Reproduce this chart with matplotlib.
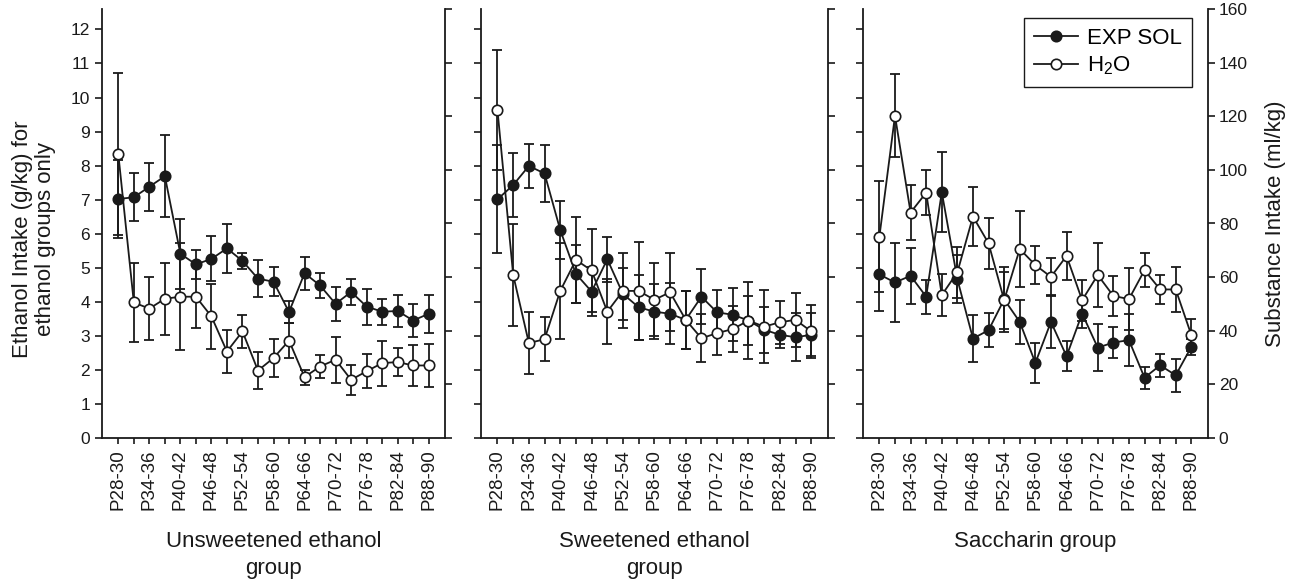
import matplotlib
matplotlib.use("Agg")
import matplotlib.pyplot as plt

plt.rcParams['font.family'] = ['Liberation Sans', 'DejaVu Sans']
plt.rcParams['mathtext.default'] = 'regular'

# period labels one per 3 day bin
periods = ["P28-30", "P31-33", "P34-36", "P37-39", "P40-42", "P43-45", "P46-48",
           "P49-51", "P52-54", "P55-57", "P58-60", "P61-63", "P64-66", "P67-69",
           "P70-72", "P73-75", "P76-78", "P79-81", "P82-84", "P85-87", "P88-90"]

# unsweetened ethanol group g/kg
sol1 = [7.02, 7.07, 7.38, 7.69, 5.41, 5.10, 5.26, 5.57, 5.20, 4.68, 4.59,
        3.70, 4.84, 4.48, 3.94, 4.29, 3.86, 3.71, 3.73, 3.45, 3.65]
sol1_err = [1.15, 0.70, 0.71, 1.21, 1.03, 0.43, 0.66, 0.72, 0.24, 0.55, 0.42,
            0.33, 0.49, 0.36, 0.50, 0.39, 0.53, 0.38, 0.46, 0.48, 0.56]
h2o1 = [8.34, 3.98, 3.80, 4.09, 4.15, 4.15, 3.57, 2.54, 3.13, 1.98, 2.35,
        2.86, 1.79, 2.10, 2.30, 1.71, 1.96, 2.20, 2.23, 2.13, 2.13]
h2o1_err = [2.37, 1.16, 0.92, 1.06, 1.58, 0.91, 0.95, 0.62, 0.48, 0.55, 0.55,
            0.52, 0.22, 0.35, 0.67, 0.44, 0.50, 0.66, 0.42, 0.61, 0.63]

# sweetened ethanol group g/kg
sol2 = [7.01, 7.43, 7.99, 7.77, 6.11, 4.82, 4.30, 5.25, 4.23, 3.84, 3.71,
        3.65, 3.47, 4.15, 3.69, 3.62, 3.45, 3.18, 3.03, 2.96, 3.03]
sol2_err = [1.59, 0.94, 0.65, 0.85, 0.85, 0.85, 0.73, 0.66, 0.76, 0.96, 0.80,
            0.89, 0.85, 0.80, 0.65, 0.78, 0.72, 0.68, 0.40, 0.70, 0.63]
h2o2 = [9.63, 4.79, 2.79, 2.90, 4.32, 5.23, 4.92, 3.71, 4.32, 4.32, 4.06,
        4.28, 3.47, 2.93, 3.08, 3.20, 3.45, 3.27, 3.40, 3.47, 3.13]
h2o2_err = [1.76, 1.50, 0.92, 0.64, 1.40, 1.27, 1.22, 0.96, 1.10, 1.43, 1.07,
            1.14, 0.85, 0.70, 0.64, 0.68, 1.13, 1.08, 0.63, 0.80, 0.78]

# saccharin group ml/kg
sol3 = [61.0, 58.0, 60.5, 52.7, 91.7, 59.2, 37.1, 40.2, 51.7, 43.3, 28.0,
        43.3, 30.5, 46.4, 33.7, 35.6, 36.5, 22.5, 27.1, 23.4, 34.0]
sol3_err = [13.6, 14.6, 10.5, 6.4, 14.8, 9.0, 8.6, 6.4, 12.0, 8.2, 7.6,
            9.9, 5.6, 5.5, 8.7, 5.9, 9.7, 4.1, 4.4, 6.2, 3.0]
h2o3 = [75.1, 120.2, 84.1, 91.5, 53.3, 61.8, 82.6, 72.6, 51.4, 70.5, 64.5,
        60.1, 67.9, 51.4, 60.8, 53.0, 51.8, 62.6, 55.4, 55.4, 38.4]
h2o3_err = [20.6, 15.5, 10.3, 8.3, 7.7, 9.5, 10.9, 9.5, 10.6, 14.2, 7.2,
            7.0, 8.8, 7.6, 11.8, 7.4, 11.7, 6.3, 5.3, 8.4, 6.0]

group_titles = ["Unsweetened ethanol\ngroup", "Sweetened ethanol\ngroup", "Saccharin group"]
left_ticks = list(range(0, 13))
right_ticks = list(range(0, 161, 20))

INK = "#1a1a1a"
W, H = 1303, 586
fig = plt.figure(figsize=(W / 100, H / 100), dpi=100)

# panel rects in pixels left, width
rects = [(101.7, 343.3), (480.7, 347.0), (862.7, 345.0)]
bottom_px, top_px = 438.0, 9.0

panels = [(sol1, sol1_err, h2o1, h2o1_err, False),
          (sol2, sol2_err, h2o2, h2o2_err, False),
          (sol3, sol3_err, h2o3, h2o3_err, True)]

x = list(range(len(periods)))
for i, ((l, w), (s, se, h, he, on_right)) in enumerate(zip(rects, panels)):
    ax = fig.add_axes([l / W, (H - bottom_px) / H, w / W, (bottom_px - top_px) / H])
    ax2 = ax.twinx()
    ax.set_ylim(0, 12.6)
    ax2.set_ylim(0, 160)
    ax.set_xlim(-1.07, 21.05)

    # saccharin values are ml/kg so they go on the right scale
    tgt = ax2 if on_right else ax
    tgt.errorbar(x, s, yerr=se, fmt="none", ecolor=INK, elinewidth=1.3,
                 capsize=3.5, capthick=1.3, zorder=2)
    tgt.errorbar(x, h, yerr=he, fmt="none", ecolor=INK, elinewidth=1.3,
                 capsize=3.5, capthick=1.3, zorder=2)
    l1, = tgt.plot(x, s, "-o", color=INK, mfc=INK, mec=INK, ms=7.5, lw=1.3,
                   mew=1.2, zorder=3, label="EXP SOL")
    l2, = tgt.plot(x, h, "-o", color=INK, mfc="white", mec=INK, ms=7.5, lw=1.3,
                   mew=1.2, zorder=4, label="H$_2$O")

    for sp in ["top", "right"]:
        ax.spines[sp].set_visible(False)
    for sp in ["top", "left", "bottom"]:
        ax2.spines[sp].set_visible(False)
    ax.spines["left"].set_linewidth(1.3)
    ax.spines["bottom"].set_linewidth(1.3)
    ax2.spines["right"].set_linewidth(1.3)
    for sp in ax.spines.values():
        sp.set_color(INK)
    for sp in ax2.spines.values():
        sp.set_color(INK)

    ax.set_yticks(left_ticks)
    ax2.set_yticks(right_ticks)
    ax.set_xticks(x)
    ax.set_xticklabels([p if k % 2 == 0 else "" for k, p in enumerate(periods)],
                       rotation=90)
    ax.tick_params(axis="both", direction="out", length=5, width=1.2, colors=INK,
                   labelsize=12.5, labelcolor=INK)
    ax.tick_params(axis="x", length=4, pad=4, labelsize=13.5)
    ax2.tick_params(axis="y", direction="out", length=5, width=1.2, colors=INK,
                    labelsize=12.5, labelcolor=INK, pad=3)

    if i == 0:
        ax.set_ylabel("Ethanol Intake (g/kg) for\nethanol groups only", fontsize=16,
                      color=INK, linespacing=1.15)
        ax.yaxis.set_label_coords(-0.132, 0.464)
    else:
        ax.set_yticklabels([])
    if i == 2:
        ax2.set_ylabel("Substance Intake (ml/kg)", fontsize=16, color=INK)
        ax2.yaxis.set_label_coords(1.165, 0.5)
        ax2.legend(handles=[l1, l2], loc="upper right", bbox_to_anchor=(0.955, 0.979),
                   borderaxespad=0, fontsize=16, frameon=True, fancybox=False,
                   edgecolor=INK, framealpha=1, handlelength=2.0, handletextpad=0.4,
                   borderpad=0.45, labelspacing=0.25)
    else:
        ax2.set_yticklabels([])

    ax.set_xlabel(group_titles[i], fontsize=16, color=INK, labelpad=15, linespacing=1.4)

fig.savefig("out.png", dpi=100)
plt.close(fig)
